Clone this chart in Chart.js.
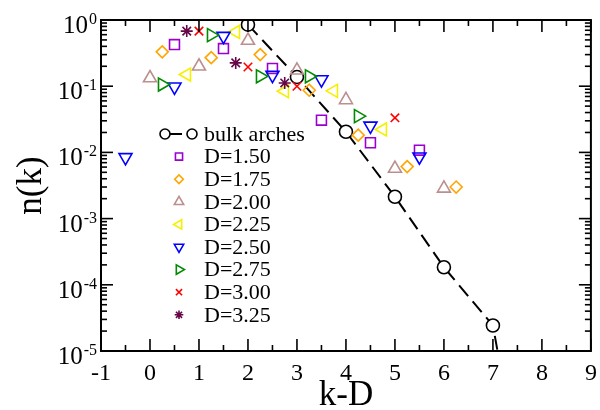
<!DOCTYPE html>
<html>
<head>
<meta charset="utf-8">
<script src="https://cdn.jsdelivr.net/npm/chart.js@4.4.1/dist/chart.umd.min.js"></script>
<style>
html, body { margin: 0; padding: 0; background: #fff; }
canvas { display: block; }
</style>
</head>
<body>
<canvas id="nkChart" width="600" height="410"></canvas>
<script>
// values, x = k-D
const bulkX = [2, 3, 4, 5, 6, 7, 8];
const bulkY = [0.85, 0.138, 0.0205, 0.00214, 1.84e-4, 2.43e-5, 2e-9];
const d150X = [0.5, 1.5, 2.5, 3.5, 4.5, 5.5];
const d150Y = [0.425, 0.37, 0.185, 0.0307, 0.014, 0.0108];
const d175X = [0.25, 1.25, 2.25, 3.25, 4.25, 5.25, 6.25];
const d175Y = [0.33, 0.27, 0.30, 0.087, 0.0182, 0.0061, 0.0030];
const d200X = [0, 1, 2, 3, 4, 5, 6];
const d200Y = [0.133, 0.20, 0.49, 0.174, 0.062, 0.0057, 0.00286];
const d225X = [0.75, 1.75, 2.75, 3.75, 4.75];
const d225Y = [0.15, 0.66, 0.084, 0.085, 0.0222];
const d250X = [-0.5, 0.5, 1.5, 2.5, 3.5, 4.5, 5.5];
const d250Y = [0.0084, 0.098, 0.57, 0.147, 0.126, 0.0252, 0.0086];
const d275X = [0.25, 1.25, 2.25, 3.25, 4.25];
const d275Y = [0.106, 0.59, 0.141, 0.141, 0.0353];
const d300X = [1, 2, 3, 5];
const d300Y = [0.68, 0.195, 0.10, 0.0333];
const d325X = [0.75, 1.75, 2.75];
const d325Y = [0.68, 0.225, 0.112];

const xTicks = [-1, 0, 1, 2, 3, 4, 5, 6, 7, 8, 9];
const yExponents = [0, -1, -2, -3, -4, -5];
const legendLabels = ['bulk arches', 'D=1.50', 'D=1.75', 'D=2.00', 'D=2.25', 'D=2.50', 'D=2.75', 'D=3.00', 'D=3.25'];

const SERIF = '"Liberation Serif", "Times New Roman", serif';

function pts(xs, ys) {
    return xs.map((x, i) => ({ x: x, y: ys[i] }));
}

function marks(label, xs, ys, style, rot, r, color, order) {
    return {
        label: label,
        data: pts(xs, ys),
        order: order,
        pointStyle: style,
        rotation: rot,
        pointRadius: r,
        borderColor: color,
        pointBorderColor: color,
        backgroundColor: 'rgba(0,0,0,0)',
        pointBackgroundColor: 'rgba(0,0,0,0)',
        pointBorderWidth: 1.6,
        showLine: false
    };
}

// higher order is drawn first, so the bulk curve sits underneath
const datasets = [
    {
        label: legendLabels[0],
        data: pts(bulkX, bulkY),
        order: 9,
        showLine: true,
        borderColor: '#000',
        borderWidth: 2,
        borderDash: [14, 7],
        pointStyle: 'circle',
        pointRadius: 6.5,
        pointBorderColor: '#000',
        pointBackgroundColor: '#fff',
        pointBorderWidth: 1.6
    },
    marks(legendLabels[1], d150X, d150Y, 'rect', 0, 7, '#9a00d0', 8),
    marks(legendLabels[2], d175X, d175Y, 'rectRot', 0, 6, '#ffa500', 7),
    marks(legendLabels[3], d200X, d200Y, 'triangle', 0, 7.5, '#bc8f8f', 6),
    marks(legendLabels[4], d225X, d225Y, 'triangle', 270, 7.5, '#f5f000', 5),
    marks(legendLabels[5], d250X, d250Y, 'triangle', 180, 7.5, '#0000ff', 4),
    marks(legendLabels[6], d275X, d275Y, 'triangle', 90, 7.5, '#008b00', 3),
    marks(legendLabels[7], d300X, d300Y, 'crossRot', 0, 6, '#ff0000', 2),
    marks(legendLabels[8], d325X, d325Y, 'star', 0, 6, '#670748', 1)
];

// frame with inside ticks, tick labels, titles and legend
const framePlugin = {
    id: 'frame',
    afterDraw(chart) {
        const ctx = chart.ctx;
        const a = chart.chartArea;
        const xs = chart.scales.x;
        const ys = chart.scales.y;
        const seg = (x1, y1, x2, y2) => {
            ctx.beginPath();
            ctx.moveTo(x1, y1);
            ctx.lineTo(x2, y2);
            ctx.stroke();
        };
        ctx.save();
        ctx.strokeStyle = '#000';
        ctx.lineWidth = 1.6;
        for (let v = -1; v <= 9; v += 0.5) {
            const px = xs.getPixelForValue(v);
            const len = Number.isInteger(v) ? 12 : 6;
            seg(px, a.bottom, px, a.bottom - len);
            seg(px, a.top, px, a.top + len);
        }
        for (let e = -5; e <= 0; e++) {
            for (let m = 1; m <= 9; m++) {
                if (e === 0 && m > 1) break;
                const py = ys.getPixelForValue(m * Math.pow(10, e));
                const len = m === 1 ? 12 : 6;
                seg(a.left, py, a.left + len, py);
                seg(a.right, py, a.right - len, py);
            }
        }
        ctx.lineWidth = 2;
        ctx.strokeRect(a.left, a.top, a.right - a.left, a.bottom - a.top);

        ctx.fillStyle = '#000';
        // x tick labels
        ctx.font = '24px ' + SERIF;
        ctx.textAlign = 'center';
        ctx.textBaseline = 'alphabetic';
        xTicks.forEach(t => {
            ctx.fillText(String(t), xs.getPixelForValue(t), 380);
        });
        // y tick labels 10^n
        yExponents.forEach(e => {
            const py = ys.getPixelForValue(Math.pow(10, e));
            ctx.font = '16px ' + SERIF;
            ctx.textAlign = 'right';
            const ex = String(e);
            const ew = ctx.measureText(ex).width;
            ctx.fillText(ex, 97, py + 4);
            ctx.font = '25px ' + SERIF;
            ctx.fillText('10', 96 - ew, py + 13);
        });
        // axis titles
        ctx.font = '35px ' + SERIF;
        ctx.textAlign = 'center';
        ctx.fillText('k-D', (a.left + a.right) / 2, 405);
        ctx.save();
        ctx.translate(32, (a.top + a.bottom) / 2);
        ctx.rotate(-Math.PI / 2);
        ctx.textBaseline = 'middle';
        ctx.fillText('n(k)', 0, 0);
        ctx.restore();

        // legend
        const rowY0 = 134;
        const rowH = 22.6;
        chart.data.datasets.forEach((ds, i) => {
            const y = rowY0 + i * rowH;
            ctx.lineWidth = 1.6;
            ctx.strokeStyle = ds.pointBorderColor;
            if (i === 0) {
                ctx.setLineDash([]);
                ctx.lineWidth = 2;
                seg(170, y, 182, y);
                ctx.lineWidth = 1.6;
                ctx.fillStyle = '#fff';
                Chart.helpers.drawPoint(ctx, { pointStyle: 'circle', radius: 5, borderWidth: 1.6, rotation: 0 }, 165, y);
                Chart.helpers.drawPoint(ctx, { pointStyle: 'circle', radius: 5, borderWidth: 1.6, rotation: 0 }, 192, y);
            } else {
                ctx.fillStyle = 'rgba(0,0,0,0)';
                Chart.helpers.drawPoint(ctx, {
                    pointStyle: ds.pointStyle,
                    radius: ds.pointRadius * 0.72,
                    borderWidth: 1.6,
                    rotation: ds.rotation
                }, 179, y);
            }
            ctx.fillStyle = '#000';
            ctx.font = '22px ' + SERIF;
            ctx.textAlign = 'left';
            ctx.textBaseline = 'middle';
            ctx.fillText(legendLabels[i], 204, y + 1);
        });
        ctx.restore();
    }
};

const ctx = document.getElementById('nkChart').getContext('2d');
const nkChart = new Chart(ctx, {
    type: 'scatter',
    data: { datasets: datasets },
    options: {
        responsive: false,
        animation: false,
        devicePixelRatio: 1,
        layout: { padding: { left: 101, right: 4, top: 20, bottom: 59 } },
        scales: {
            x: { type: 'linear', min: -1, max: 9, display: false },
            y: { type: 'logarithmic', min: 1e-5, max: 1, display: false }
        },
        plugins: {
            legend: { display: false },
            tooltip: { enabled: false }
        }
    },
    plugins: [framePlugin]
});
</script>
</body>
</html>
